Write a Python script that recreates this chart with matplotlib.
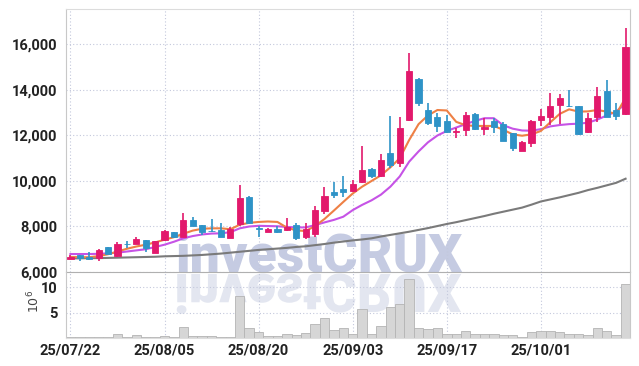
import numpy as np
import matplotlib
matplotlib.use('Agg')
import matplotlib.pyplot as plt
from matplotlib.textpath import TextPath
from matplotlib.patches import PathPatch
from matplotlib.font_manager import FontProperties
from matplotlib.transforms import Affine2D

# tick dates (trading-day index of each label)
date_labels = ['25/07/22', '25/08/05', '25/08/20', '25/09/03', '25/09/17', '25/10/01']
date_idx = [0, 10, 20, 30, 40, 50]

# daily candles
opens = [6580, 6730, 6660, 6600, 7100, 6710, 7240, 7250, 7390, 6850,
         7400, 7770, 7560, 8280, 8070, 7810, 7850, 7490, 8100, 9300,
         7930, 7780, 7870, 7850, 8060, 7530, 7670, 8700, 9500, 9630,
         9580, 9970, 10530, 10220, 11210, 10800, 12680, 14500, 13120, 12800,
         12640, 12160, 12240, 12940, 12270, 12620, 12500, 12100, 11330, 11690,
         12680, 12830, 13340, 13310, 13300, 12140, 12830, 13960, 13100, 12950]
closes = [6680, 6600, 6570, 6960, 6790, 7230, 7220, 7450, 7070, 7360,
          7800, 7560, 8280, 8020, 7780, 7790, 7560, 7870, 9260, 8140,
          7890, 7870, 7770, 7990, 7480, 7870, 8720, 9330, 9400, 9520,
          9870, 10480, 10220, 10920, 10700, 12310, 14830, 13440, 12540, 12420,
          12170, 12180, 12900, 12280, 12380, 12380, 11770, 11440, 11730, 12640,
          12860, 13300, 13660, 13290, 12070, 12760, 13740, 12830, 12870, 15880]
highs = [6740, 6760, 6860, 6990, 7110, 7300, 7360, 7520, 7420, 7380,
         7850, 7780, 8580, 8400, 8080, 8320, 8140, 7960, 9820, 9350,
         8000, 7920, 8030, 8360, 8170, 8140, 8900, 9720, 9970, 10220,
         10050, 11540, 10560, 11170, 12860, 12830, 15620, 14520, 13420, 13000,
         12900, 12320, 13050, 13000, 12760, 12760, 12600, 12120, 11740, 12680,
         13150, 13880, 13820, 14000, 13300, 12980, 14120, 14440, 13440, 16710]
lows = [6560, 6480, 6540, 6480, 6780, 6680, 7050, 7230, 6870, 6840,
        7380, 7480, 7540, 8000, 7630, 7760, 7540, 7480, 8000, 8120,
        7560, 7740, 7700, 7820, 7400, 7460, 7550, 8560, 9240, 9310,
        9530, 9900, 10120, 10160, 10560, 10630, 12620, 13300, 12460, 12170,
        12100, 11880, 11980, 12240, 12030, 12100, 11760, 11330, 11320, 11510,
        12420, 12460, 12500, 13240, 12000, 12130, 12610, 12800, 12680, 12900]

# volume in millions of shares
volume = [0.1, 0.1, 0.1, 0.2, 0.2, 0.7, 0.2, 0.5, 0.2, 0.2,
          0.4, 0.2, 2.2, 0.4, 0.4, 0.4, 0.2, 0.2, 8.2, 2.0,
          1.1, 0.35, 0.35, 0.8, 0.6, 1.0, 2.7, 3.9, 1.6, 2.0,
          0.85, 5.7, 0.85, 2.4, 6.2, 6.6, 11.7, 2.0, 1.8, 2.0,
          0.8, 0.8, 1.4, 0.85, 0.85, 0.85, 0.6, 0.6, 0.2, 1.1,
          1.3, 1.4, 1.1, 0.85, 0.85, 0.65, 2.0, 1.3, 0.5, 10.7]

# moving average lines as drawn
ma_short = [6660, 6650, 6650, 6700, 6780, 6900, 7020, 7120, 7200, 7300,
            7420, 7530, 7680, 7820, 7900, 7920, 7920, 7880, 8080, 8160,
            8200, 8220, 8200, 7950, 7830, 7800, 8020, 8330, 8700, 9080,
            9450, 9750, 10000, 10250, 10600, 11000, 11800, 12500, 12880, 13120,
            13100, 12600, 12450, 12420, 12420, 12420, 12250, 12050, 11990, 12050,
            12200, 12580, 12950, 13150, 13050, 13060, 13120, 13050, 12950, 13650]
ma_mid = [6790, 6790, 6790, 6800, 6820, 6850, 6900, 6950, 7000, 7100,
          7200, 7330, 7480, 7580, 7650, 7690, 7700, 7750, 7920, 8000,
          8030, 8020, 8010, 7980, 7960, 7960, 8060, 8180, 8290, 8430,
          8720, 8950, 9150, 9400, 9750, 10200, 10850, 11300, 11700, 12000,
          12200, 12350, 12500, 12640, 12760, 12760, 12450, 12300, 12220, 12210,
          12280, 12400, 12460, 12500, 12520, 12560, 12700, 12880, 13050, 13400]
ma_long = [6600, 6600, 6610, 6610, 6620, 6630, 6640, 6650, 6660, 6670,
           6690, 6700, 6710, 6730, 6750, 6780, 6810, 6850, 6890, 6930,
           6970, 7000, 7030, 7060, 7100, 7130, 7180, 7230, 7290, 7340,
           7390, 7430, 7480, 7560, 7630, 7700, 7770, 7850, 7930, 8020,
           8110, 8190, 8280, 8370, 8460, 8560, 8650, 8740, 8830, 8960,
           9100, 9190, 9280, 9380, 9480, 9600, 9700, 9810, 9920, 10100]

RED = '#e2196c'
BLUE = '#2e93c7'
GRID = '#c3c8dc'
FRAME = '#c8c8c8'
TICKFONT = ['Liberation Sans Narrow', 'Roboto', 'DejaVu Sans']

W, H = 639, 366
fig = plt.figure(figsize=(W / 100, H / 100), dpi=100)
ax = fig.add_axes([66 / W, 1 - 272 / H, 564 / W, 263 / H])
axv = fig.add_axes([66 / W, 1 - 338 / H, 564 / W, 66 / H], sharex=ax)
for a in (ax, axv):
    a.set_facecolor('none')

x = np.arange(len(opens))
o = np.array(opens)
c = np.array(closes)
cols = np.where(c >= o, RED, BLUE)

# watermark with its mirror image
wm_font = FontProperties(family='Roboto', weight='heavy', size=38.5)
fig.text(319 / W, 1 - 271 / H, 'investCRUX', ha='center', va='baseline',
         fontproperties=wm_font, color='#c5cbe2', zorder=-2)
tp = TextPath((0, 0), 'investCRUX', prop=wm_font)
ext = tp.get_extents()
k = fig.dpi / 72
mirror = Affine2D().translate(-(ext.x0 + ext.x1) / 2, 0).scale(k, -k).translate(319, H - 274)
fig.add_artist(PathPatch(tp, transform=mirror, facecolor='#e3e6f0', edgecolor='none', zorder=-2))

# price panel
ax.plot(x, ma_long, color='#7a7a7a', lw=1.5, zorder=2)
ax.plot(x, ma_mid, color='#c653e6', lw=1.5, zorder=2)
ax.plot(x, ma_short, color='#ee8045', lw=1.5, zorder=2)
ax.vlines(x, lows, highs, colors=cols, lw=1.2, zorder=3)
ax.bar(x, np.abs(c - o), bottom=np.minimum(o, c), width=0.66,
       color=cols, edgecolor=cols, linewidth=0.6, zorder=4)

ax.set_xlim(-0.47, 59.47)
ax.set_ylim(6000, 17560)
ax.set_yticks(range(6000, 16001, 2000))
ax.set_yticklabels([f'{v:,}' for v in range(6000, 16001, 2000)])
ax.grid(True, color=GRID, lw=0.8, ls=(0, (1, 2)))
ax.tick_params(axis='x', labelbottom=False, length=0)
ax.tick_params(axis='y', length=0, pad=6)

# volume panel
axv.bar(x, volume, width=1.0, color='#d6d6d6', edgecolor='#b4b4b4', linewidth=0.6, zorder=2)
axv.set_ylim(0, 13.0)
axv.set_yticks([5, 10])
axv.set_yticklabels(['5', '10'])
axv.set_xticks(date_idx)
axv.set_xticklabels(date_labels)
axv.grid(True, color=GRID, lw=0.8, ls=(0, (1, 2)))
axv.tick_params(length=0)
axv.tick_params(axis='y', pad=6)
axv.tick_params(axis='x', pad=4)
fig.text(34 / W, 1 - 301 / H, r'$10^6$', rotation=90, ha='center', va='center',
         fontsize=9, color='#444444')

for lab in ax.get_yticklabels() + axv.get_yticklabels() + axv.get_xticklabels():
    lab.set_family(TICKFONT)
    lab.set_fontweight('bold')
    lab.set_fontsize(10.5)
    lab.set_color('#222222')

for a in (ax, axv):
    for s in a.spines.values():
        s.set_color(FRAME)
        s.set_linewidth(0.8)
ax.spines['top'].set_color('#dcdcdc')
ax.spines['bottom'].set_color('#b0b0b0')
axv.spines['top'].set_visible(False)
axv.spines['bottom'].set_color('#dddddd')

fig.savefig('out.png', dpi=100)
